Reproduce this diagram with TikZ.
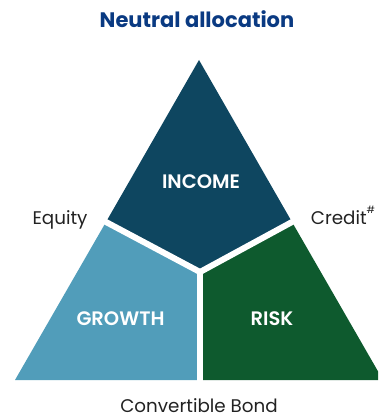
\documentclass[tikz,border=0pt]{standalone}
\usepackage{fontspec}
\setmainfont{Poppins}
\newfontfamily\segfont{Poppins}[UprightFont=* Medium, BoldFont=* SemiBold]
\usetikzlibrary{calc}
\begin{document}
\begin{tikzpicture}[x=1pt,y=-1pt,
  region/.style={draw=none},
  divider/.style={draw=white,line width=6pt},
  txt/.style={anchor=base,inner sep=1pt},
  segtext/.style={txt,text=white,font=\segfont\bfseries\fontsize{19.5}{22}\selectfont},
  sidetext/.style={txt,text=labelgray,font=\fontsize{18.3}{21}\selectfont},
]
\definecolor{incomecol}{HTML}{0E4660}
\definecolor{growthcol}{HTML}{519DBA}
\definecolor{riskcol}{HTML}{0E5A2E}
\definecolor{titleblue}{HTML}{0A3A82}
\definecolor{labelgray}{HTML}{222222}
\useasboundingbox (0,0) rectangle (378,417);
\clip (0,0) rectangle (378,417);

% corners of the triangle and the junction of the three segments
\coordinate (apex) at (199,60);
\coordinate (bl) at (15,380);
\coordinate (br) at (383,380);
\coordinate (mid) at (200,272);
\coordinate (lcut) at (106,222);
\coordinate (rcut) at (292,222);
\coordinate (bcut) at (200,380);

% segments
\fill[incomecol,region] (apex) -- (rcut) -- (mid) -- (lcut) -- cycle;
\fill[growthcol,region] (lcut) -- (mid) -- (bcut) -- (bl) -- cycle;
\fill[riskcol,region] (rcut) -- (br) -- (bcut) -- (mid) -- cycle;

% white gaps between the segments
\draw[divider] ($(mid)!1.08!(lcut)$) -- (mid) -- ($(mid)!1.08!(rcut)$);
\draw[divider] (mid) -- (200,384);

% labels
\node[txt,font=\bfseries\fontsize{21}{25}\selectfont,text=titleblue] (title) at (197,28) {Neutral allocation};
\node[segtext] (income) at (201,188) {INCOME};
\node[segtext] (growth) at (120.5,325) {GROWTH};
\node[segtext] (risk) at (272,325) {RISK};
\node[sidetext] (equity) at (60,224) {Equity};
\node[sidetext] (credit) at (343,224) {Credit\raisebox{0.55em}{\fontsize{10}{12}\selectfont\#}};
\node[sidetext,inner sep=0pt,text depth=0pt] (cb) at (199,412) {Convertible Bond};
\end{tikzpicture}
\end{document}
